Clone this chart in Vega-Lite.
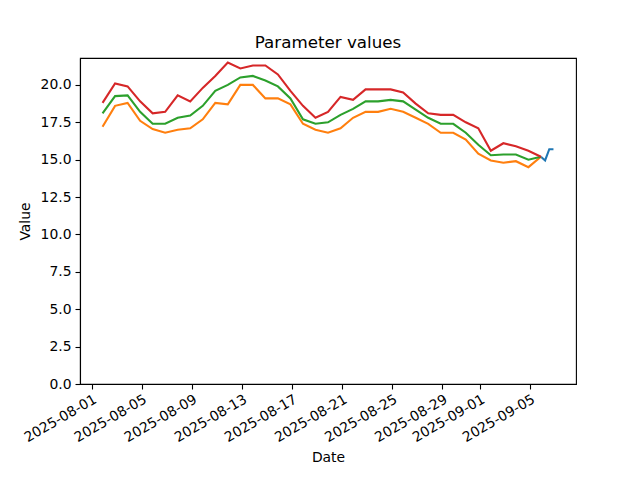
{
  "$schema": "https://vega.github.io/schema/vega-lite/v6.json",
  "autosize": {"type": "none"},
  "width": 496,
  "height": 326,
  "padding": {"left": 80, "top": 58, "right": 64, "bottom": 96},
  "background": "white",
  "config": {
    "font": "DejaVu Sans",
    "view": {"stroke": "black", "strokeWidth": 1.1},
    "axis": {
      "grid": false,
      "domainColor": "black",
      "domainWidth": 1.1,
      "tickColor": "black",
      "tickWidth": 1.1,
      "tickSize": 5,
      "labelPadding": 4,
      "labelFont": "DejaVu Sans",
      "labelFontSize": 13.9,
      "labelColor": "black",
      "titleFont": "DejaVu Sans",
      "titleFontSize": 13.9,
      "titleFontWeight": "normal",
      "titleColor": "black"
    }
  },
  "title": {
    "text": "Parameter values",
    "font": "DejaVu Sans",
    "fontSize": 16.7,
    "fontWeight": "normal",
    "color": "black",
    "offset": 6
  },
  "datasets": {
    "daily": [
      {"date": "2025-08-01T21:00:00", "max": 18.8, "mean": 18.1, "min": 17.2},
      {"date": "2025-08-02T21:00:00", "max": 20.1, "mean": 19.25, "min": 18.6},
      {"date": "2025-08-03T21:00:00", "max": 19.9, "mean": 19.3, "min": 18.8},
      {"date": "2025-08-04T21:00:00", "max": 18.9, "mean": 18.2, "min": 17.6},
      {"date": "2025-08-05T21:00:00", "max": 18.1, "mean": 17.4, "min": 17.05},
      {"date": "2025-08-06T21:00:00", "max": 18.2, "mean": 17.4, "min": 16.8},
      {"date": "2025-08-07T21:00:00", "max": 19.3, "mean": 17.8, "min": 17.0},
      {"date": "2025-08-08T21:00:00", "max": 18.9, "mean": 17.95, "min": 17.1},
      {"date": "2025-08-09T21:00:00", "max": 19.8, "mean": 18.6, "min": 17.7},
      {"date": "2025-08-10T21:00:00", "max": 20.6, "mean": 19.6, "min": 18.8},
      {"date": "2025-08-11T21:00:00", "max": 21.5, "mean": 20.0, "min": 18.7},
      {"date": "2025-08-12T21:00:00", "max": 21.1, "mean": 20.5, "min": 20.0},
      {"date": "2025-08-13T21:00:00", "max": 21.3, "mean": 20.6, "min": 20.0},
      {"date": "2025-08-14T21:00:00", "max": 21.3, "mean": 20.3, "min": 19.1},
      {"date": "2025-08-15T21:00:00", "max": 20.7, "mean": 19.9, "min": 19.1},
      {"date": "2025-08-16T21:00:00", "max": 19.6, "mean": 19.1, "min": 18.7},
      {"date": "2025-08-17T21:00:00", "max": 18.6, "mean": 17.7, "min": 17.4},
      {"date": "2025-08-18T21:00:00", "max": 17.8, "mean": 17.4, "min": 17.0},
      {"date": "2025-08-19T21:00:00", "max": 18.2, "mean": 17.5, "min": 16.8},
      {"date": "2025-08-20T21:00:00", "max": 19.2, "mean": 18.0, "min": 17.1},
      {"date": "2025-08-21T21:00:00", "max": 19.0, "mean": 18.4, "min": 17.8},
      {"date": "2025-08-22T21:00:00", "max": 19.7, "mean": 18.9, "min": 18.2},
      {"date": "2025-08-23T21:00:00", "max": 19.7, "mean": 18.9, "min": 18.2},
      {"date": "2025-08-24T21:00:00", "max": 19.7, "mean": 19.0, "min": 18.4},
      {"date": "2025-08-25T21:00:00", "max": 19.5, "mean": 18.9, "min": 18.2},
      {"date": "2025-08-26T21:00:00", "max": 18.75, "mean": 18.35, "min": 17.8},
      {"date": "2025-08-27T21:00:00", "max": 18.1, "mean": 17.8, "min": 17.4},
      {"date": "2025-08-28T21:00:00", "max": 18.0, "mean": 17.4, "min": 16.8},
      {"date": "2025-08-29T21:00:00", "max": 18.0, "mean": 17.4, "min": 16.8},
      {"date": "2025-08-30T21:00:00", "max": 17.5, "mean": 16.8, "min": 16.35},
      {"date": "2025-08-31T21:00:00", "max": 17.1, "mean": 16.0, "min": 15.4},
      {"date": "2025-09-01T21:00:00", "max": 15.6, "mean": 15.3, "min": 14.95},
      {"date": "2025-09-02T21:00:00", "max": 16.1, "mean": 15.35, "min": 14.8},
      {"date": "2025-09-03T21:00:00", "max": 15.9, "mean": 15.35, "min": 14.9},
      {"date": "2025-09-04T21:00:00", "max": 15.6, "mean": 15.0, "min": 14.5},
      {"date": "2025-09-05T21:00:00", "max": 15.2, "mean": 15.2, "min": 15.2}
    ],
    "current": [
      {"date": "2025-09-05T21:00:00", "value": 15.2},
      {"date": "2025-09-06T05:00:00", "value": 14.95},
      {"date": "2025-09-06T13:00:00", "value": 15.7},
      {"date": "2025-09-06T21:00:00", "value": 15.7}
    ]
  },
  "encoding": {
    "x": {
      "field": "date",
      "type": "temporal",
      "title": "Date",
      "scale": {
        "domain": [
          {"year": 2025, "month": "jul", "date": 31, "hours": 1, "minutes": 48},
          {"year": 2025, "month": "sep", "date": 8, "hours": 16, "minutes": 12}
        ]
      },
      "axis": {
        "values": [
          {"year": 2025, "month": "aug", "date": 1},
          {"year": 2025, "month": "aug", "date": 5},
          {"year": 2025, "month": "aug", "date": 9},
          {"year": 2025, "month": "aug", "date": 13},
          {"year": 2025, "month": "aug", "date": 17},
          {"year": 2025, "month": "aug", "date": 21},
          {"year": 2025, "month": "aug", "date": 25},
          {"year": 2025, "month": "aug", "date": 29},
          {"year": 2025, "month": "sep", "date": 1},
          {"year": 2025, "month": "sep", "date": 5}
        ],
        "format": "%Y-%m-%d",
        "labelAngle": -30,
        "labelAlign": "right",
        "labelBaseline": "top",
        "labelPadding": 3,
        "titlePadding": 6,
        "labelOverlap": false,
        "labelFlush": false
      }
    },
    "y": {
      "field": "value",
      "type": "quantitative",
      "title": "Value",
      "scale": {"domain": [0, 21.8], "nice": false, "zero": false},
      "axis": {
        "values": [0, 2.5, 5, 7.5, 10, 12.5, 15, 17.5, 20],
        "format": ".1f",
        "titlePadding": 8
      }
    }
  },
  "layer": [
    {
      "data": {"name": "current"},
      "mark": {"type": "line", "color": "#1f77b4", "strokeWidth": 2.1, "clip": true}
    },
    {
      "data": {"name": "daily"},
      "transform": [
        {"fold": ["min", "mean", "max"], "as": ["series", "value"]}
      ],
      "mark": {"type": "line", "strokeWidth": 2.1, "clip": true},
      "encoding": {
        "color": {
          "field": "series",
          "type": "nominal",
          "legend": null,
          "scale": {
            "domain": ["min", "mean", "max"],
            "range": ["#ff7f0e", "#2ca02c", "#d62728"]
          }
        }
      }
    }
  ]
}
